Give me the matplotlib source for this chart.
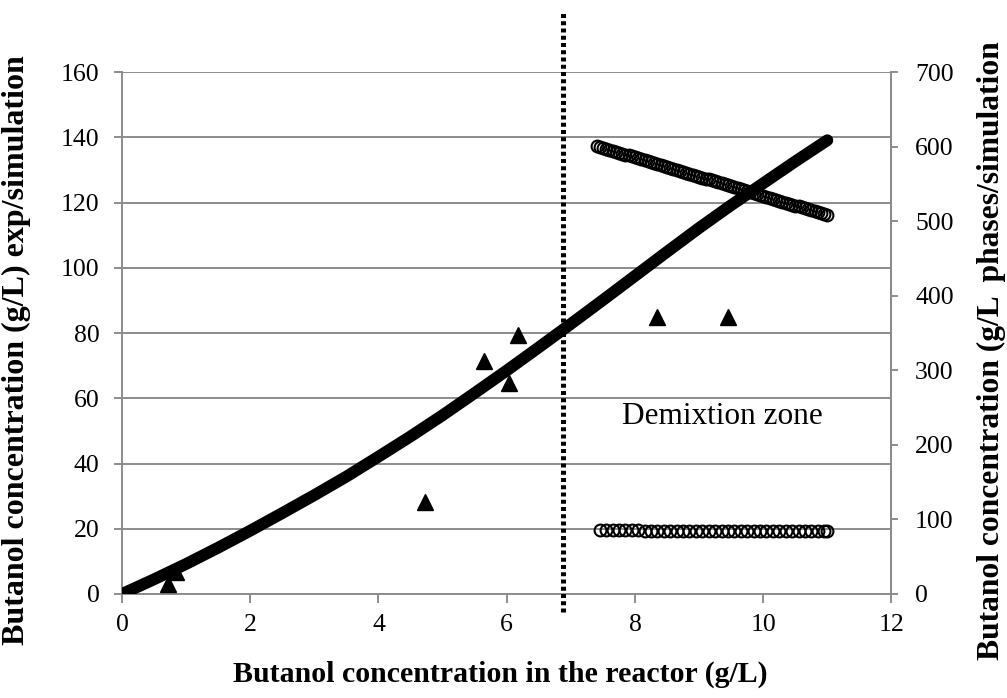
import matplotlib
matplotlib.use("Agg")
import matplotlib.pyplot as plt
import matplotlib.transforms as mtransforms

plt.rcParams['font.family'] = ['Liberation Serif', 'DejaVu Serif']

# ---- data ----
sim_x = [0, 0.5, 1, 1.5, 2, 2.5, 3, 3.5, 4, 4.5, 5, 5.5, 6, 6.5, 7, 7.5, 8, 8.5,
         9, 9.5, 10, 10.5, 11]
sim_y = [0, 4.5, 9.2, 14.2, 19.4, 24.8, 30.3, 36.0, 42.1, 48.3, 54.8, 61.6, 68.5,
         75.6, 82.8, 90.1, 97.5, 104.9, 112.2, 119.2, 125.9, 132.6, 139.1]

exp_x = [0.72, 0.85, 4.72, 5.64, 6.03, 6.17, 8.35, 9.45]
exp_y = [3.1, 6.6, 28.3, 71.3, 64.7, 79.5, 85.0, 85.0]

upper_x = [7.40, 7.45, 7.50, 7.55, 7.60, 7.65, 7.70, 7.75, 7.80, 7.85, 7.90, 7.95,
           8.00, 8.05, 8.10, 8.15, 8.20, 8.25, 8.30, 8.35, 8.40, 8.45, 8.50, 8.55,
           8.60, 8.65, 8.70, 8.75, 8.80, 8.85, 8.90, 8.95, 9.00, 9.05, 9.10, 9.15,
           9.20, 9.25, 9.30, 9.35, 9.40, 9.45, 9.50, 9.55, 9.60, 9.65, 9.70, 9.75,
           9.80, 9.85, 9.90, 9.95, 10.00, 10.05, 10.10, 10.15, 10.20, 10.25, 10.30,
           10.35, 10.40, 10.45, 10.50, 10.55, 10.60, 10.65, 10.70, 10.75, 10.80,
           10.85, 10.90, 10.95, 11.00]
upper_y = [601.0, 599.7, 598.4, 597.1, 595.8, 594.6, 593.3, 592.0, 590.7, 589.4,
           588.1, 586.8, 585.5, 584.2, 582.9, 581.7, 580.4, 579.1, 577.8, 576.5,
           575.2, 573.9, 572.6, 571.3, 570.0, 568.8, 567.5, 566.2, 564.9, 563.6,
           562.3, 561.0, 559.7, 558.4, 557.1, 555.9, 554.6, 553.3, 552.0, 550.7,
           549.4, 548.1, 546.8, 545.5, 544.2, 543.0, 541.7, 540.4, 539.1, 537.8,
           536.5, 535.2, 533.9, 532.6, 531.3, 530.1, 528.8, 527.5, 526.2, 524.9,
           523.6, 522.3, 521.0, 519.7, 518.4, 517.2, 515.9, 514.6, 513.3, 512.0,
           510.7, 509.4, 508.1]

lower_x = [7.45, 7.55, 7.65, 7.75, 7.85, 7.95, 8.05, 8.15, 8.25, 8.35, 8.45, 8.55,
           8.65, 8.75, 8.85, 8.95, 9.05, 9.15, 9.25, 9.35, 9.45, 9.55, 9.65, 9.75,
           9.85, 9.95, 10.05, 10.15, 10.25, 10.35, 10.45, 10.55, 10.65, 10.75,
           10.85, 10.95, 11.00]
lower_y = [85.3, 85.3, 85.3, 85.2, 85.2, 85.2, 85.2, 85.1, 85.1, 85.1, 85.1, 85.0,
           85.0, 85.0, 85.0, 84.9, 84.9, 84.9, 84.9, 84.8, 84.8, 84.8, 84.8, 84.7,
           84.7, 84.7, 84.7, 84.6, 84.6, 84.6, 84.6, 84.5, 84.5, 84.5, 84.5, 84.4,
           84.4]

x_ticks = [0, 2, 4, 6, 8, 10, 12]
left_ticks = [0, 20, 40, 60, 80, 100, 120, 140, 160]
right_ticks = [0, 100, 200, 300, 400, 500, 600, 700]
demix_x = 6.88

GRAY = '#8c8c8c'

fig = plt.figure(figsize=(10.07, 6.98), dpi=100)
ax = fig.add_axes([0.1211, 0.149, 0.7642, 0.7478])
ax2 = ax.twinx()

ax.set_xlim(0, 12)
ax.set_ylim(0, 160)
ax2.set_ylim(0, 700)
ax.set_xticks(x_ticks)
ax.set_yticks(left_ticks)
ax2.set_yticks(right_ticks)

ax.yaxis.grid(True, color=GRAY, linewidth=1.4)
ax.set_axisbelow(True)

for a in (ax, ax2):
    a.spines['top'].set_visible(False)
    for side in ('left', 'right', 'bottom'):
        a.spines[side].set_color(GRAY)
        a.spines[side].set_linewidth(1.4)
ax2.spines['left'].set_visible(False)
ax2.spines['bottom'].set_visible(False)

ax.tick_params(axis='x', direction='out', length=6.5, width=1.4, color=GRAY,
               labelsize=18.5, pad=8)
ax.tick_params(axis='y', direction='out', length=6, width=1.4, color=GRAY,
               labelsize=18.5, pad=10)
ax2.tick_params(axis='y', direction='out', length=5, width=1.4, color=GRAY,
                labelsize=18.5, pad=12)

# simulation curve
ax.plot(sim_x, sim_y, color='black', linewidth=8.5, solid_capstyle='round',
        solid_joinstyle='round', zorder=3)
# experimental points
ax.plot(exp_x, exp_y, linestyle='none', marker='^', markersize=11.5,
        color='black', zorder=4)
# phases (right axis)
ax2.plot(upper_x, upper_y, linestyle='none', marker='o', markersize=8.5,
         markerfacecolor='none', markeredgecolor='black', markeredgewidth=1.5)
ax2.plot(lower_x, lower_y, linestyle='none', marker='o', markersize=8.5,
         markerfacecolor='none', markeredgecolor='black', markeredgewidth=1.5)

# demixtion boundary
trans = mtransforms.blended_transform_factory(ax.transData, ax.transAxes)
ax.plot([demix_x, demix_x], [-0.034, 1.113], transform=trans, color='black',
        linewidth=3.6, dashes=(0.8, 0.65), dash_capstyle='butt', clip_on=False,
        zorder=5)

ax.text(9.37, 52, 'Demixtion zone', fontsize=22.5, ha='center', va='baseline')

ax.set_xlabel('Butanol concentration in the reactor (g/L)', fontsize=21.5,
              fontweight='bold')
ax.xaxis.set_label_coords(0.492, -0.127)
ax.set_ylabel('Butanol concentration (g/L) exp/simulation', fontsize=23,
              fontweight='bold')
ax.yaxis.set_label_coords(-0.118, 0.467)
ax2.set_ylabel('Butanol concentration (g/L  phases/simulation', fontsize=22.7,
               fontweight='bold', rotation=90)
ax2.yaxis.set_label_coords(1.111, 0.467)

fig.savefig('out.png', dpi=100)
